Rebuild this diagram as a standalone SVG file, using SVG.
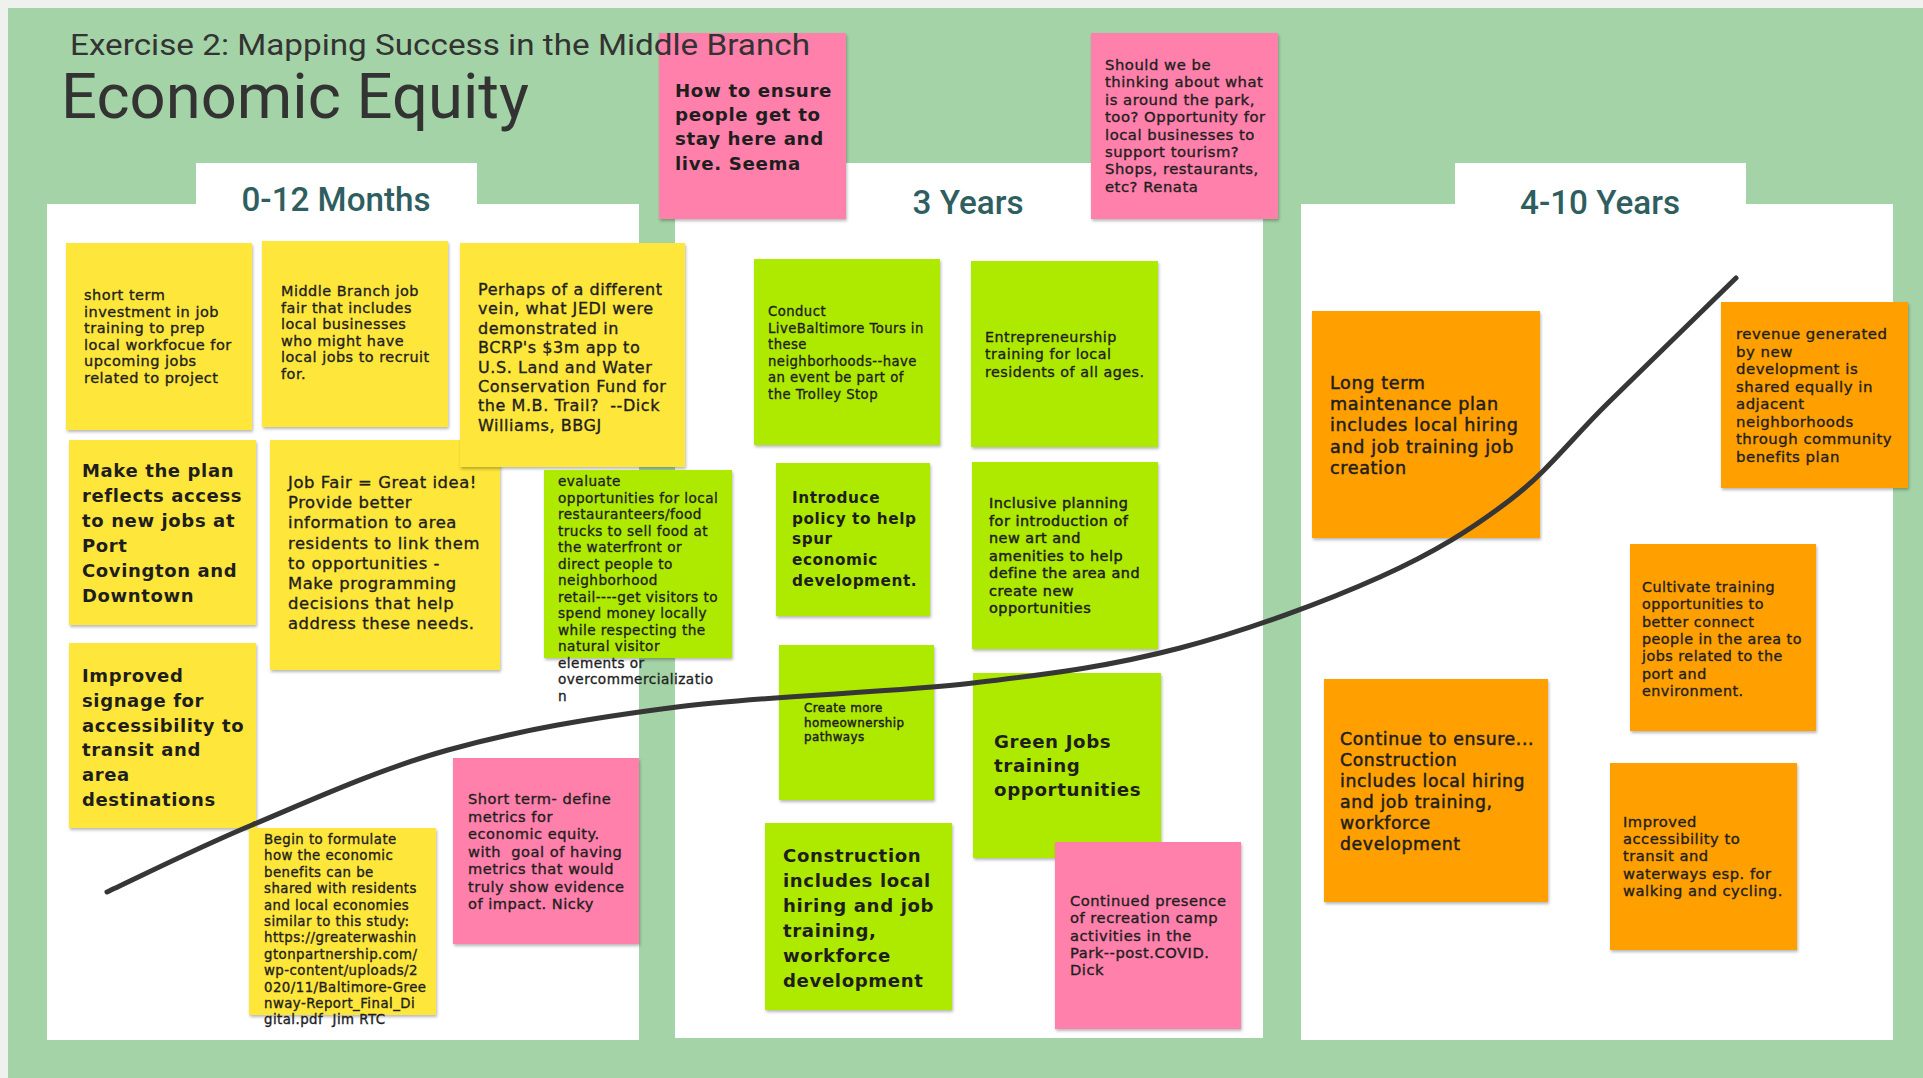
<svg xmlns="http://www.w3.org/2000/svg" width="1923" height="1078" viewBox="0 0 1923 1078">
<defs>
<filter id="sh" x="-5%" y="-5%" width="115%" height="115%">
<feDropShadow dx="1" dy="2" stdDeviation="1.5" flood-color="#000" flood-opacity="0.28"/>
</filter>
</defs>
<style>
.frame{fill:#EFF1EF}
.bg{fill:#A3D3A6}
.col{fill:#FFFFFF}
.hd{font-family:Roboto,"Liberation Sans",sans-serif;font-size:33px;font-weight:500;fill:#2F5E60;text-anchor:middle}
.ttl{font-family:Roboto,"Liberation Sans",sans-serif;fill:#333333}
.note{filter:url(#sh)}
.y{fill:#FFE63B}
.g{fill:#AEEA00}
.p{fill:#FF80AB}
.o{fill:#FFA000}
.t{font-family:"DejaVu Sans","Noto Sans",sans-serif;fill:#1E1E1E;letter-spacing:0.035em}
.m{stroke:#1E1E1E;stroke-width:0.35px}
.b{font-weight:bold}
.curve{fill:none;stroke:#363636;stroke-width:5;stroke-linecap:round;stroke-linejoin:round}
</style>

<rect class="frame" x="0" y="0" width="1923" height="1078"/>
<rect class="bg" x="8" y="8" width="1915" height="1070"/>

<g id="column-0-12-months">
<rect class="col" x="47" y="204" width="592" height="836"/>
<rect class="col" x="196" y="163" width="281" height="42"/>
<text class="hd" x="336" y="211" textLength="189" lengthAdjust="spacingAndGlyphs">0-12 Months</text>
</g>
<g id="column-3-years">
<rect class="col" x="675" y="204" width="588" height="834"/>
<rect class="col" x="822" y="163" width="282" height="42"/>
<text class="hd" x="968" y="214" textLength="111" lengthAdjust="spacingAndGlyphs">3 Years</text>
</g>
<g id="column-4-10-years">
<rect class="col" x="1301" y="204" width="592" height="836"/>
<rect class="col" x="1455" y="163" width="291" height="42"/>
<text class="hd" x="1600" y="214" textLength="160" lengthAdjust="spacingAndGlyphs">4-10 Years</text>
</g>

<g id="note-short-term-investment">
<rect class="note y" x="66" y="243" width="186" height="187"/>
<text class="t m" font-size="14.5" x="84" y="300"><tspan x="84" dy="0">short term</tspan><tspan x="84" dy="16.5">investment in job</tspan><tspan x="84" dy="16.5">training to prep</tspan><tspan x="84" dy="16.5">local workfocue for</tspan><tspan x="84" dy="16.5">upcoming jobs</tspan><tspan x="84" dy="16.5">related to project</tspan></text>
</g>

<g id="note-job-fair">
<rect class="note y" x="262" y="241" width="186" height="186"/>
<text class="t m" font-size="14.4" x="281" y="296"><tspan x="281" dy="0">Middle Branch job</tspan><tspan x="281" dy="16.5">fair that includes</tspan><tspan x="281" dy="16.5">local businesses</tspan><tspan x="281" dy="16.5">who might have</tspan><tspan x="281" dy="16.5">local jobs to recruit</tspan><tspan x="281" dy="16.5">for.</tspan></text>
</g>

<g id="note-great-idea">
<rect class="note y" x="270" y="440" width="230" height="230"/>
<text class="t m" font-size="16.4" x="288" y="488"><tspan x="288" dy="0">Job Fair = Great idea!</tspan><tspan x="288" dy="20.2">Provide better</tspan><tspan x="288" dy="20.2">information to area</tspan><tspan x="288" dy="20.2">residents to link them</tspan><tspan x="288" dy="20.2">to opportunities -</tspan><tspan x="288" dy="20.2">Make programming</tspan><tspan x="288" dy="20.2">decisions that help</tspan><tspan x="288" dy="20.2">address these needs.</tspan></text>
</g>

<g id="note-jedi">
<rect class="note y" x="460" y="243" width="225" height="224"/>
<text class="t m" font-size="16" x="478" y="295"><tspan x="478" dy="0">Perhaps of a different</tspan><tspan x="478" dy="19.4">vein, what JEDI were</tspan><tspan x="478" dy="19.4">demonstrated in</tspan><tspan x="478" dy="19.4">BCRP's $3m app to</tspan><tspan x="478" dy="19.4">U.S. Land and Water</tspan><tspan x="478" dy="19.4">Conservation Fund for</tspan><tspan x="478" dy="19.4">the M.B. Trail?&#160; --Dick</tspan><tspan x="478" dy="19.4">Williams, BBGJ</tspan></text>
</g>

<g id="note-plan-access">
<rect class="note y" x="69" y="440" width="187" height="185"/>
<text class="t b" font-size="18" x="82" y="477"><tspan x="82" dy="0">Make the plan</tspan><tspan x="82" dy="25">reflects access</tspan><tspan x="82" dy="25">to new jobs at</tspan><tspan x="82" dy="25">Port</tspan><tspan x="82" dy="25">Covington and</tspan><tspan x="82" dy="25">Downtown</tspan></text>
</g>

<g id="note-evaluate-opportunities">
<rect class="note g" x="544" y="470" width="188" height="188"/>
<text class="t m" font-size="13.6" x="558" y="486"><tspan x="558" dy="0">evaluate</tspan><tspan x="558" dy="16.5">opportunities for local</tspan><tspan x="558" dy="16.5">restauranteers/food</tspan><tspan x="558" dy="16.5">trucks to sell food at</tspan><tspan x="558" dy="16.5">the waterfront or</tspan><tspan x="558" dy="16.5">direct people to</tspan><tspan x="558" dy="16.5">neighborhood</tspan><tspan x="558" dy="16.5">retail----get visitors to</tspan><tspan x="558" dy="16.5">spend money locally</tspan><tspan x="558" dy="16.5">while respecting the</tspan><tspan x="558" dy="16.5">natural visitor</tspan><tspan x="558" dy="16.5">elements or</tspan><tspan x="558" dy="16.5">overcommercializatio</tspan><tspan x="558" dy="16.5">n</tspan></text>
</g>

<g id="note-signage">
<rect class="note y" x="69" y="643" width="187" height="185"/>
<text class="t b" font-size="18" x="82" y="682"><tspan x="82" dy="0">Improved</tspan><tspan x="82" dy="24.8">signage for</tspan><tspan x="82" dy="24.8">accessibility to</tspan><tspan x="82" dy="24.8">transit and</tspan><tspan x="82" dy="24.8">area</tspan><tspan x="82" dy="24.8">destinations</tspan></text>
</g>

<g id="note-economic-benefits">
<rect class="note y" x="249" y="828" width="187" height="187"/>
<text class="t m" font-size="13.3" x="264" y="844"><tspan x="264" dy="0">Begin to formulate</tspan><tspan x="264" dy="16.4">how the economic</tspan><tspan x="264" dy="16.4">benefits can be</tspan><tspan x="264" dy="16.4">shared with residents</tspan><tspan x="264" dy="16.4">and local economies</tspan><tspan x="264" dy="16.4">similar to this study:</tspan><tspan x="264" dy="16.4">https://greaterwashin</tspan><tspan x="264" dy="16.4">gtonpartnership.com/</tspan><tspan x="264" dy="16.4">wp-content/uploads/2</tspan><tspan x="264" dy="16.4">020/11/Baltimore-Gree</tspan><tspan x="264" dy="16.4">nway-Report_Final_Di</tspan><tspan x="264" dy="16.4">gital.pdf&#160; Jim RTC</tspan></text>
</g>

<g id="note-define-metrics">
<rect class="note p" x="453" y="758" width="186" height="186"/>
<text class="t m" font-size="14.6" x="468" y="804"><tspan x="468" dy="0">Short term- define</tspan><tspan x="468" dy="17.5">metrics for</tspan><tspan x="468" dy="17.5">economic equity.</tspan><tspan x="468" dy="17.5">with&#160; goal of having</tspan><tspan x="468" dy="17.5">metrics that would</tspan><tspan x="468" dy="17.5">truly show evidence</tspan><tspan x="468" dy="17.5">of impact. Nicky</tspan></text>
</g>

<g id="note-stay-here">
<rect class="note p" x="659" y="33" width="187" height="186"/>
<text class="t b" font-size="18.2" x="675" y="97"><tspan x="675" dy="0">How to ensure</tspan><tspan x="675" dy="24.2">people get to</tspan><tspan x="675" dy="24.2">stay here and</tspan><tspan x="675" dy="24.2">live. Seema</tspan></text>
</g>

<g id="note-around-the-park">
<rect class="note p" x="1091" y="33" width="187" height="186"/>
<text class="t m" font-size="14.8" x="1105" y="70"><tspan x="1105" dy="0">Should we be</tspan><tspan x="1105" dy="17.4">thinking about what</tspan><tspan x="1105" dy="17.4">is around the park,</tspan><tspan x="1105" dy="17.4">too? Opportunity for</tspan><tspan x="1105" dy="17.4">local businesses to</tspan><tspan x="1105" dy="17.4">support tourism?</tspan><tspan x="1105" dy="17.4">Shops, restaurants,</tspan><tspan x="1105" dy="17.4">etc? Renata</tspan></text>
</g>

<g id="note-livebaltimore-tours">
<rect class="note g" x="754" y="259" width="186" height="186"/>
<text class="t m" font-size="13.2" x="768" y="316"><tspan x="768" dy="0">Conduct</tspan><tspan x="768" dy="16.5">LiveBaltimore Tours in</tspan><tspan x="768" dy="16.5">these</tspan><tspan x="768" dy="16.5">neighborhoods--have</tspan><tspan x="768" dy="16.5">an event be part of</tspan><tspan x="768" dy="16.5">the Trolley Stop</tspan></text>
</g>

<g id="note-entrepreneurship">
<rect class="note g" x="971" y="261" width="187" height="186"/>
<text class="t m" font-size="14.3" x="985" y="342"><tspan x="985" dy="0">Entrepreneurship</tspan><tspan x="985" dy="17.3">training for local</tspan><tspan x="985" dy="17.3">residents of all ages.</tspan></text>
</g>

<g id="note-introduce-policy">
<rect class="note g" x="776" y="463" width="154" height="153"/>
<text class="t b" font-size="15.3" x="792" y="503"><tspan x="792" dy="0">Introduce</tspan><tspan x="792" dy="20.7">policy to help</tspan><tspan x="792" dy="20.7">spur</tspan><tspan x="792" dy="20.7">economic</tspan><tspan x="792" dy="20.7">development.</tspan></text>
</g>

<g id="note-inclusive-planning">
<rect class="note g" x="972" y="462" width="186" height="187"/>
<text class="t m" font-size="14.4" x="989" y="508" style="stroke-width:0.5px"><tspan x="989" dy="0">Inclusive planning</tspan><tspan x="989" dy="17.5">for introduction of</tspan><tspan x="989" dy="17.5">new art and</tspan><tspan x="989" dy="17.5">amenities to help</tspan><tspan x="989" dy="17.5">define the area and</tspan><tspan x="989" dy="17.5">create new</tspan><tspan x="989" dy="17.5">opportunities</tspan></text>
</g>

<g id="note-homeownership">
<rect class="note g" x="779" y="645" width="155" height="155"/>
<text class="t m" font-size="11.9" x="804" y="712" style="stroke-width:0.45px"><tspan x="804" dy="0">Create more</tspan><tspan x="804" dy="14.5">homeownership</tspan><tspan x="804" dy="14.5">pathways</tspan></text>
</g>

<g id="note-green-jobs">
<rect class="note g" x="973" y="673" width="188" height="185"/>
<text class="t b" font-size="18.2" x="994" y="748"><tspan x="994" dy="0">Green Jobs</tspan><tspan x="994" dy="24.2">training</tspan><tspan x="994" dy="24.2">opportunities</tspan></text>
</g>

<g id="note-construction-hiring">
<rect class="note g" x="765" y="823" width="187" height="187"/>
<text class="t b" font-size="18.1" x="783" y="862"><tspan x="783" dy="0">Construction</tspan><tspan x="783" dy="24.9">includes local</tspan><tspan x="783" dy="24.9">hiring and job</tspan><tspan x="783" dy="24.9">training,</tspan><tspan x="783" dy="24.9">workforce</tspan><tspan x="783" dy="24.9">development</tspan></text>
</g>

<g id="note-recreation-camp">
<rect class="note p" x="1055" y="842" width="186" height="187"/>
<text class="t m" font-size="14.7" x="1070" y="906"><tspan x="1070" dy="0">Continued presence</tspan><tspan x="1070" dy="17.3">of recreation camp</tspan><tspan x="1070" dy="17.3">activities in the</tspan><tspan x="1070" dy="17.3">Park--post.COVID.</tspan><tspan x="1070" dy="17.3">Dick</tspan></text>
</g>

<g id="note-maintenance-plan">
<rect class="note o" x="1312" y="311" width="228" height="227"/>
<text class="t m" font-size="17.6" x="1330" y="389" style="stroke-width:0.5px"><tspan x="1330" dy="0">Long term</tspan><tspan x="1330" dy="21.2">maintenance plan</tspan><tspan x="1330" dy="21.2">includes local hiring</tspan><tspan x="1330" dy="21.2">and job training job</tspan><tspan x="1330" dy="21.2">creation</tspan></text>
</g>

<g id="note-revenue-shared">
<rect class="note o" x="1721" y="302" width="187" height="186"/>
<text class="t m" font-size="14.9" x="1736" y="339"><tspan x="1736" dy="0">revenue generated</tspan><tspan x="1736" dy="17.5">by new</tspan><tspan x="1736" dy="17.5">development is</tspan><tspan x="1736" dy="17.5">shared equally in</tspan><tspan x="1736" dy="17.5">adjacent</tspan><tspan x="1736" dy="17.5">neighborhoods</tspan><tspan x="1736" dy="17.5">through community</tspan><tspan x="1736" dy="17.5">benefits plan</tspan></text>
</g>

<g id="note-cultivate-training">
<rect class="note o" x="1630" y="544" width="186" height="187"/>
<text class="t m" font-size="14.3" x="1642" y="592"><tspan x="1642" dy="0">Cultivate training</tspan><tspan x="1642" dy="17.3">opportunities to</tspan><tspan x="1642" dy="17.3">better connect</tspan><tspan x="1642" dy="17.3">people in the area to</tspan><tspan x="1642" dy="17.3">jobs related to the</tspan><tspan x="1642" dy="17.3">port and</tspan><tspan x="1642" dy="17.3">environment.</tspan></text>
</g>

<g id="note-continue-to-ensure">
<rect class="note o" x="1324" y="679" width="224" height="223"/>
<text class="t m" font-size="17.3" x="1340" y="745" style="stroke-width:0.5px"><tspan x="1340" dy="0">Continue to ensure...</tspan><tspan x="1340" dy="20.9">Construction</tspan><tspan x="1340" dy="20.9">includes local hiring</tspan><tspan x="1340" dy="20.9">and job training,</tspan><tspan x="1340" dy="20.9">workforce</tspan><tspan x="1340" dy="20.9">development</tspan></text>
</g>

<g id="note-improved-accessibility">
<rect class="note o" x="1610" y="763" width="187" height="187"/>
<text class="t m" font-size="14.7" x="1623" y="827"><tspan x="1623" dy="0">Improved</tspan><tspan x="1623" dy="17.2">accessibility to</tspan><tspan x="1623" dy="17.2">transit and</tspan><tspan x="1623" dy="17.2">waterways esp. for</tspan><tspan x="1623" dy="17.2">walking and cycling.</tspan></text>
</g>

<g id="title">
<text class="ttl" x="70" y="55" font-size="30" textLength="740" lengthAdjust="spacingAndGlyphs">Exercise 2: Mapping Success in the Middle Branch</text>
<text class="ttl" x="61" y="118" font-size="63" textLength="468" lengthAdjust="spacingAndGlyphs">Economic Equity</text>
</g>

<g id="connectors">
<path class="curve" d="M107,892 C131.2,880.8 195.2,848.7 252,825 C308.8,801.3 377.2,769.7 448,750 C518.8,730.3 589.5,718.2 677,707 C764.5,695.8 889.2,692.8 973,683 C1056.8,673.2 1112.2,665.7 1180,648 C1247.8,630.3 1325,601.7 1380,577 C1435,552.3 1472,529 1510,500 C1548,471 1570.3,440 1608,403 C1645.7,366 1714.7,298.8 1736,278"/>
</g>
</svg>
